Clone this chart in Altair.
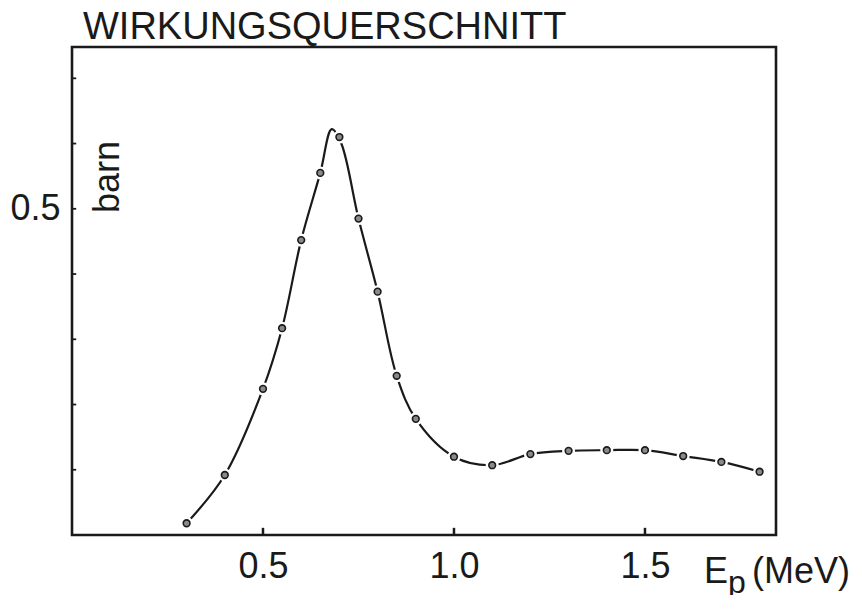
import altair as alt
import pandas as pd

# measured points (E_p in MeV, cross section in barn)
energy = [0.3, 0.4, 0.5, 0.55, 0.6, 0.65, 0.7, 0.75, 0.8, 0.85, 0.9,
          1.0, 1.1, 1.2, 1.3, 1.4, 1.5, 1.6, 1.7, 1.8]
sigma = [0.018, 0.092, 0.224, 0.317, 0.452, 0.555, 0.610, 0.485, 0.373, 0.244, 0.178,
         0.120, 0.107, 0.124, 0.129, 0.130, 0.130, 0.121, 0.112, 0.097]

# hand-drawn curve
curve_x = [0.3, 0.4, 0.5, 0.55, 0.6, 0.65, 0.68, 0.705, 0.75, 0.8, 0.85, 0.9,
           1.0, 1.1, 1.2, 1.3, 1.4, 1.5, 1.6, 1.7, 1.8]
curve_y = [0.018, 0.092, 0.224, 0.317, 0.452, 0.555, 0.622, 0.600, 0.485, 0.373, 0.244, 0.178,
           0.120, 0.107, 0.124, 0.129, 0.130, 0.130, 0.121, 0.112, 0.097]

x_tick_vals = [0.5, 1.0, 1.5]
y_tick_vals = [0.1, 0.2, 0.3, 0.4, 0.5, 0.6, 0.7]
x_label_vals = [0.5, 1.0, 1.5]
y_label_vals = [0.5]

X_DOMAIN = [0, 1.843]
Y_DOMAIN = [0, 0.748]

pts = pd.DataFrame({"E": energy, "s": sigma})
crv = pd.DataFrame({"E": curve_x, "s": curve_y})
xt = pd.DataFrame({"E": x_tick_vals, "s0": [0.0] * 3, "s1": [0.011] * 3})
yt = pd.DataFrame({"s": y_tick_vals, "e0": [0.0] * 7, "e1": [0.011] * 7})

FONT = "Liberation Sans"
INK = "#1a1a1a"

xs = alt.Scale(domain=X_DOMAIN, nice=False, zero=False)
ys = alt.Scale(domain=Y_DOMAIN, nice=False, zero=False)

xaxis = alt.Axis(values=x_label_vals, format=".1f", labelFont=FONT, labelFontSize=36,
                 labelColor=INK, labelPadding=14, ticks=False, domain=False, grid=False,
                 title=None)
yaxis = alt.Axis(values=y_label_vals, format=".1f", labelFont=FONT, labelFontSize=36,
                 labelColor=INK, labelPadding=12, ticks=False, domain=False, grid=False,
                 title=None)

line = alt.Chart(crv).mark_line(interpolate="catmull-rom", color=INK, strokeWidth=2.2).encode(
    x=alt.X("E:Q", scale=xs, axis=xaxis),
    y=alt.Y("s:Q", scale=ys, axis=yaxis),
)

halo = alt.Chart(pts).mark_point(filled=True, shape="circle", size=170, color="white", opacity=1).encode(
    x=alt.X("E:Q", scale=xs), y=alt.Y("s:Q", scale=ys))

dots = alt.Chart(pts).mark_point(shape="circle", size=45, fill="#8a8a8a", fillOpacity=1,
                                 stroke=INK, strokeWidth=1.6, opacity=1).encode(
    x=alt.X("E:Q", scale=xs), y=alt.Y("s:Q", scale=ys))

xticks = alt.Chart(xt).mark_rule(color=INK, strokeWidth=2.5).encode(
    x=alt.X("E:Q", scale=xs), y=alt.Y("s0:Q", scale=ys), y2="s1:Q")
yticks = alt.Chart(yt).mark_rule(color=INK, strokeWidth=1.8).encode(
    y=alt.Y("s:Q", scale=ys), x=alt.X("e0:Q", scale=xs), x2="e1:Q")

barn = alt.Chart(pd.DataFrame({"t": ["barn"]})).mark_text(
    font=FONT, fontSize=36, angle=270, align="center", baseline="middle", color=INK
).encode(text="t:N", x=alt.value(36), y=alt.value(130))

e_lbl = alt.Chart(pd.DataFrame({"t": ["E"]})).mark_text(
    font=FONT, fontSize=36, align="left", baseline="alphabetic", color=INK
).encode(text="t:N", x=alt.value(632), y=alt.value(536))
p_lbl = alt.Chart(pd.DataFrame({"t": ["p"]})).mark_text(
    font=FONT, fontSize=32, align="left", baseline="alphabetic", color=INK
).encode(text="t:N", x=alt.value(656), y=alt.value(546))
mev_lbl = alt.Chart(pd.DataFrame({"t": ["(MeV)"]})).mark_text(
    font=FONT, fontSize=36, align="left", baseline="alphabetic", color=INK
).encode(text="t:N", x=alt.value(680), y=alt.value(536))

chart = alt.layer(line, halo, dots, xticks, yticks, barn, e_lbl, p_lbl, mev_lbl).properties(
    width=704, height=488,
    padding={"left": 64, "top": 39, "right": 78, "bottom": 60},
    autosize="none",
    background="white",
    title=alt.TitleParams("WIRKUNGSQUERSCHNITT", anchor="start", frame="group", font=FONT,
                          fontSize=38, fontWeight="normal", color=INK, dx=11, offset=0),
).configure_view(stroke=INK, strokeWidth=2.6)

chart.save("out.html", embed_options={"renderer": "svg", "actions": False})
